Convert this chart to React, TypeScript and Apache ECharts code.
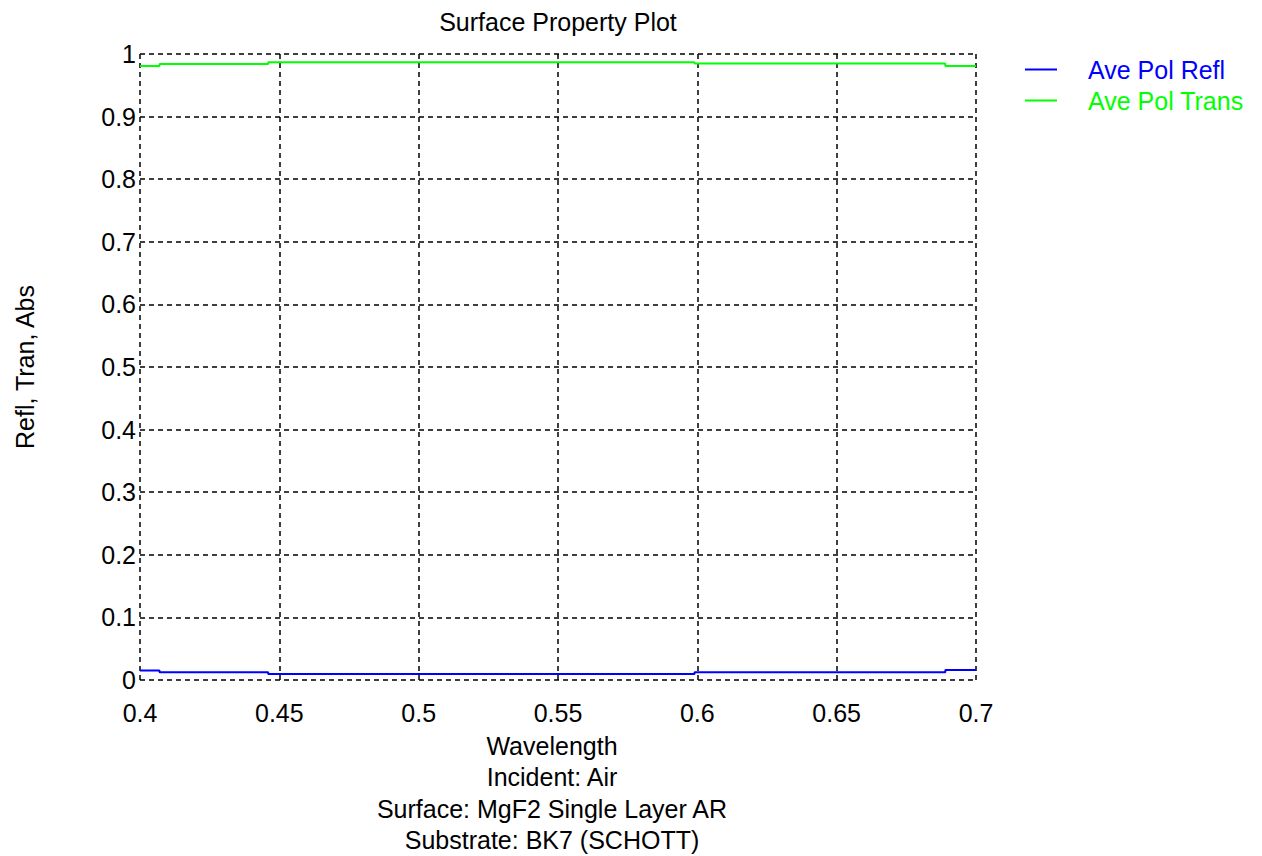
import React, { useEffect, useRef } from "react";
import * as echarts from "echarts";

const wavelengths = [0.4, 0.407, 0.407, 0.446, 0.446, 0.599, 0.599, 0.689, 0.689, 0.7];
const aveReflValues = [0.015, 0.015, 0.0125, 0.0125, 0.0097, 0.0097, 0.0125, 0.0125, 0.016, 0.016];
const aveTransValues = [0.981, 0.981, 0.984, 0.984, 0.987, 0.987, 0.985, 0.985, 0.981, 0.981];
const seriesNames = ["Ave Pol Refl", "Ave Pol Trans"];
const seriesColors = ["#0000ff", "#00ff00"];
const titleText = "Surface Property Plot";
const yAxisTitle = "Refl, Tran, Abs";
const bottomLines = ["Wavelength", "Incident: Air", "Surface: MgF2 Single Layer AR", "Substrate: BK7 (SCHOTT)"];

const FONT = "'Liberation Sans', Arial, sans-serif";

export default function App() {
  const ref = useRef<HTMLDivElement>(null);
  useEffect(() => {
    if (!ref.current) return;
    const chart = echarts.init(ref.current, null, { renderer: "svg" });
    const dashed = { color: "#000", width: 1.5, type: [5, 4] as any };
    chart.setOption({
      animation: false,
      backgroundColor: "#fff",
      textStyle: { fontFamily: FONT },
      title: {
        text: titleText,
        left: 553,
        textAlign: "center",
        top: 4,
        textStyle: { fontSize: 25, fontWeight: "normal", color: "#000", fontFamily: FONT },
      },
      legend: {
        orient: "vertical",
        left: 1020,
        top: 49,
        itemGap: 0,
        icon: "rect",
        itemWidth: 32,
        itemHeight: 2,
        textStyle: { fontSize: 25, lineHeight: 31, padding: [0, 0, 0, 26], fontFamily: FONT },
        data: seriesNames.map((n, i) => ({ name: n, textStyle: { color: seriesColors[i] } })),
      },
      grid: { left: 140, top: 54, right: 286, bottom: 176, containLabel: false, outerBoundsMode: "none" },
      xAxis: {
        type: "value",
        min: 0.4,
        max: 0.7,
        interval: 0.05,
        axisLine: { show: false },
        axisTick: { show: false },
        axisLabel: {
          margin: 20,
          fontSize: 25,
          color: "#000",
          fontFamily: FONT,
          formatter: (v: number) => String(+v.toFixed(2)),
        },
        splitLine: { show: true, showMinLine: true, showMaxLine: true, lineStyle: dashed },
      },
      yAxis: {
        type: "value",
        min: 0,
        max: 1,
        interval: 0.1,
        name: yAxisTitle,
        nameLocation: "middle",
        nameRotate: 90,
        nameGap: 103,
        nameTextStyle: { fontSize: 25, color: "#000", fontFamily: FONT },
        axisLine: { show: false },
        axisTick: { show: false },
        axisLabel: {
          margin: 4,
          fontSize: 25,
          color: "#000",
          fontFamily: FONT,
          formatter: (v: number) => String(+v.toFixed(1)),
        },
        splitLine: { show: true, showMinLine: true, showMaxLine: true, lineStyle: dashed },
      },
      graphic: [
        {
          type: "text",
          x: 552,
          y: 730,
          style: {
            text: bottomLines.join("\n"),
            fontSize: 25,
            lineHeight: 31.5,
            fill: "#000",
            fontFamily: FONT,
            align: "center",
            verticalAlign: "top",
          } as any,
        },
      ],
      series: [
        {
          name: seriesNames[0],
          type: "line",
          showSymbol: false,
          color: seriesColors[0],
          lineStyle: { width: 2, color: seriesColors[0] },
          data: wavelengths.map((w, i) => [w, aveReflValues[i]]),
        },
        {
          name: seriesNames[1],
          type: "line",
          showSymbol: false,
          color: seriesColors[1],
          lineStyle: { width: 2, color: seriesColors[1] },
          data: wavelengths.map((w, i) => [w, aveTransValues[i]]),
        },
      ],
    });
    return () => chart.dispose();
  }, []);
  return (
    <div
      ref={ref}
      style={{ position: "absolute", left: 0, top: 0, width: 1262, height: 856, background: "#fff" }}
    />
  );
}
